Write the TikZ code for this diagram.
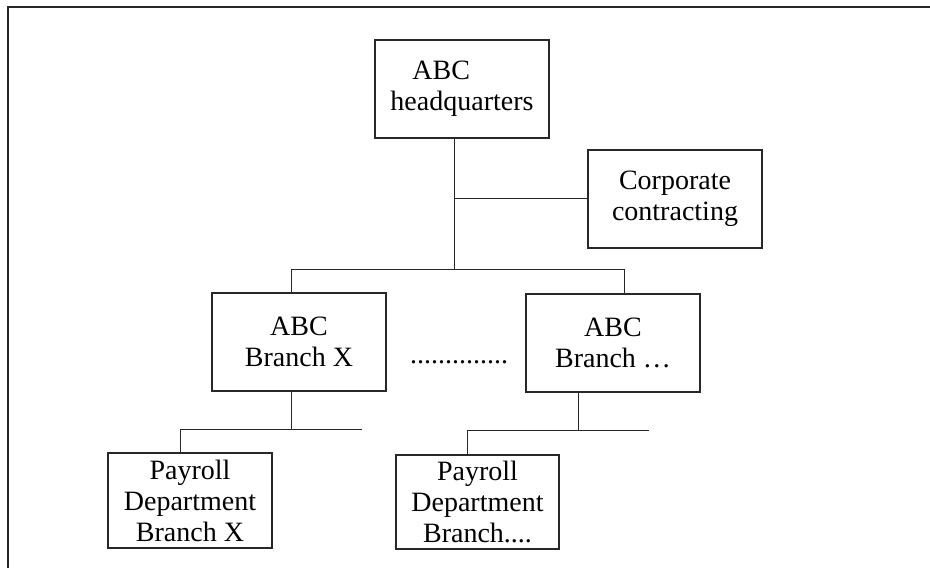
\documentclass[tikz,border=0pt]{standalone}
\usepackage{fontspec}
\setmainfont{Liberation Serif}
\usepackage{tikz}
\usetikzlibrary{positioning,calc}
\definecolor{orgline}{RGB}{40,40,40}

\begin{document}
\begin{tikzpicture}[x=1pt,y=-1pt,
  orgbox/.style={draw=orgline,line width=1.3pt,inner sep=0pt,align=center,
    font=\fontsize{28}{31}\selectfont},
  link/.style={draw=orgline,line width=0.9pt}]
\useasboundingbox (0,0) rectangle (930,568);
% frame
\draw[orgline,line width=1.3pt] (8,568) -- (8,7) -- (930,7);
% boxes
\node[orgbox,minimum width=174pt,minimum height=98pt,align=left] (hq) at (462,89)
  {\hspace*{22pt}ABC\\headquarters};
\node[orgbox,minimum width=174pt,minimum height=98pt] (corp) at (675,199)
  {Corporate\\contracting};
\node[orgbox,minimum width=174pt,minimum height=98pt] (brX) at (299,342)
  {ABC\\Branch X};
\node[orgbox,minimum width=174pt,minimum height=98pt] (brN) at (613,343)
  {ABC\\Branch …};
\node[orgbox,minimum width=164pt,minimum height=95pt] (payX) at (190,500.5)
  {Payroll\\Department\\Branch X};
\node[orgbox,minimum width=163pt,minimum height=94pt] (payN) at (477.5,502)
  {Payroll\\Department\\Branch....};
\node[font=\fontsize{28}{31}\selectfont,anchor=base] (dots) at (459,363) {..............};
% junctions
\coordinate (hqbus) at (454,269);
\coordinate (corpj) at (454,198);
\coordinate (busL) at (291,269);
\coordinate (busR) at (624,269);
\coordinate (subXL) at (180,429);
\coordinate (subXR) at (362,429);
\coordinate (subNL) at (467,430);
\coordinate (subNR) at (649,430);
\coordinate (subNj) at (578,430);
% connectors
\draw[link] (hqbus |- hq.south) -- (hqbus);
\draw[link] (corpj) -- (corp.west |- corpj);
\draw[link] (busL |- brX.north) -- (busL) -- (busR) -- (busR |- brN.north);
\draw[link] (busL |- brX.south) -- (busL |- subXL);
\draw[link] (subXR) -- (subXL) -- (subXL |- payX.north);
\draw[link] (subNj |- brN.south) -- (subNj);
\draw[link] (subNR) -- (subNL) -- (subNL |- payN.north);
\end{tikzpicture}
\end{document}
